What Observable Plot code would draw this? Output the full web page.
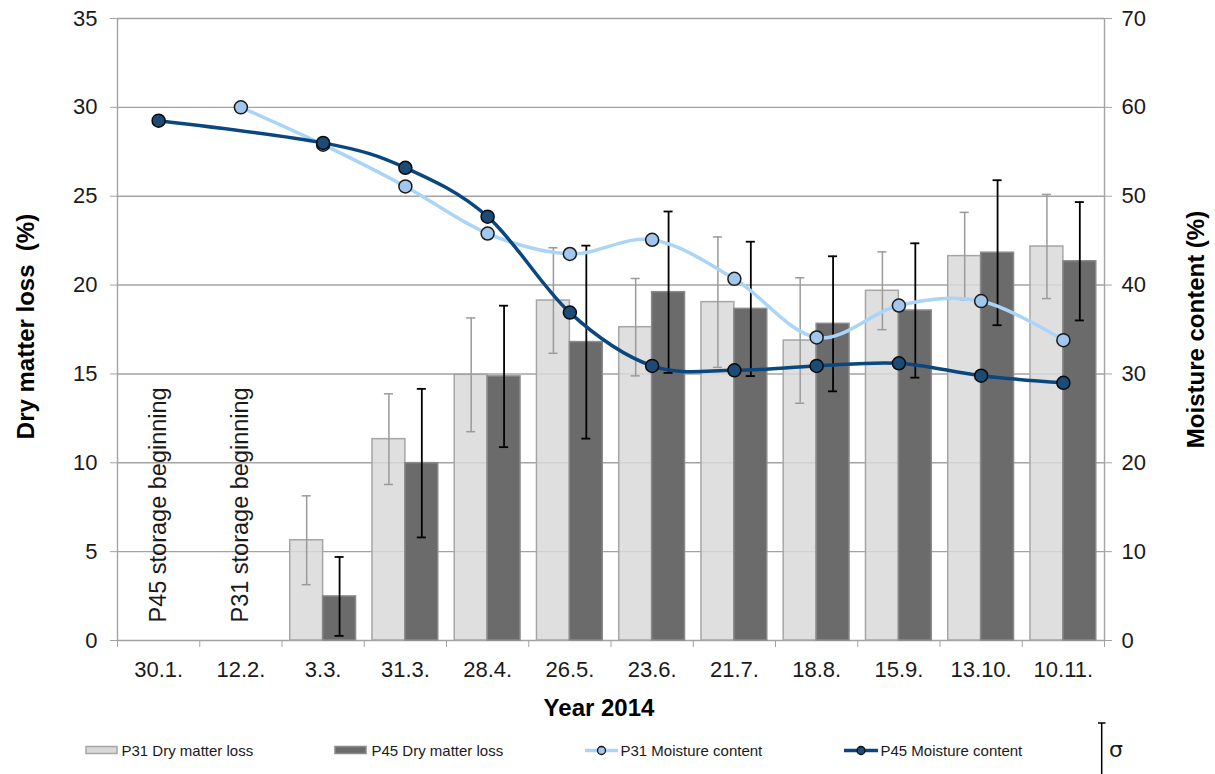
<!DOCTYPE html>
<html>
<head>
<meta charset="utf-8">
<script src="https://cdn.jsdelivr.net/npm/d3@7"></script>
<script src="https://cdn.jsdelivr.net/npm/@observablehq/plot@0.6"></script>
<style>
  html, body { margin: 0; padding: 0; background: #fff; }
  #wrap { position: relative; width: 1215px; height: 774px; font-family: "Liberation Sans", Arial, sans-serif; }
  #legend { display: block; }
</style>
</head>
<body>
<div id="wrap"></div>
<script>
// ---- data ----
const cats = ["30.1.", "12.2.", "3.3.", "31.3.", "28.4.", "26.5.", "23.6.", "21.7.", "18.8.", "15.9.", "13.10.", "10.11."];
const p31Loss   = [null, null, 5.64, 11.33, 14.95, 19.13, 17.63, 19.04, 16.88, 19.68, 21.63, 22.17];
const p31LossSd = [null, null, 2.50, 2.55, 3.20, 2.97, 2.74, 3.67, 3.53, 2.19, 2.46, 2.93];
const p45Loss   = [null, null, 2.48, 9.98, 14.86, 16.79, 19.60, 18.66, 17.82, 18.57, 21.82, 21.34];
const p45LossSd = [null, null, 2.22, 4.18, 3.98, 5.43, 4.54, 3.78, 3.80, 3.78, 4.08, 3.33];
const p31Moist  = [null, 60.0, 55.8, 51.1, 45.8, 43.5, 45.1, 40.7, 34.1, 37.7, 38.2, 33.8];
const p45Moist  = [58.5, null, 56.0, 53.2, 47.7, 36.9, 30.9, 30.4, 30.9, 31.2, 29.8, 29.0];
const leftTicks = [0, 5, 10, 15, 20, 25, 30, 35];
const rightTicks = [0, 10, 20, 30, 40, 50, 60, 70];
const storageNotes = [{i: 0, t: "P45 storage beginning"}, {i: 1, t: "P31 storage beginning"}];
const legendItems = ["P31 Dry matter loss", "P45 Dry matter loss", "P31 Moisture content", "P45 Moisture content"];

// ---- table ----
const rows = cats.map((c, i) => ({
  i, c,
  p31: p31Loss[i], p31sd: p31LossSd[i],
  p45: p45Loss[i], p45sd: p45LossSd[i],
  m31: p31Moist[i], m45: p45Moist[i]
}));
const r31 = rows.filter(d => d.p31 != null);
const r45 = rows.filter(d => d.p45 != null);
const m31 = rows.filter(d => d.m31 != null);
const m45 = rows.filter(d => d.m45 != null);
const ratio = 35 / 70; // right axis maps onto left scale

const GRID = "#a3a3a3";
const TXT = "#1a1a1a";
const BW = 0.4, EO = 0.2, CAP = 0.055;

const chart = Plot.plot({
  width: 1215,
  height: 722,
  marginTop: 18,
  marginBottom: 82,
  marginLeft: 117,
  marginRight: 111,
  style: {fontFamily: "'Liberation Sans', Arial, sans-serif", fontSize: "22px", color: TXT, background: "white"},
  x: {type: "linear", domain: [-0.5, 11.5]},
  y: {domain: [0, 35]},
  marks: [
    Plot.ruleY(leftTicks, {stroke: GRID, strokeWidth: 1.4}),
    Plot.ruleX([-0.5, 11.5], {stroke: GRID, strokeWidth: 1.4}),
    // bars
    Plot.rect(r31, {x1: d => d.i - BW, x2: d => d.i, y1: 0, y2: "p31", fill: "#d9d9d9", fillOpacity: 0.85, stroke: "#a6a6a6", strokeWidth: 1.5}),
    Plot.rect(r45, {x1: d => d.i, x2: d => d.i + BW, y1: 0, y2: "p45", fill: "#6b6b6b", stroke: "#8a8a8a", strokeWidth: 1.5}),
    // error bars P31
    Plot.ruleX(r31, {x: d => d.i - EO, y1: d => d.p31 - d.p31sd, y2: d => d.p31 + d.p31sd, stroke: "#9a9a9a", strokeWidth: 1.5}),
    Plot.ruleY(r31, {x1: d => d.i - EO - CAP, x2: d => d.i - EO + CAP, y: d => d.p31 + d.p31sd, stroke: "#9a9a9a", strokeWidth: 1.5}),
    Plot.ruleY(r31, {x1: d => d.i - EO - CAP, x2: d => d.i - EO + CAP, y: d => d.p31 - d.p31sd, stroke: "#9a9a9a", strokeWidth: 1.5}),
    // error bars P45
    Plot.ruleX(r45, {x: d => d.i + EO, y1: d => d.p45 - d.p45sd, y2: d => d.p45 + d.p45sd, stroke: "#000", strokeWidth: 1.8}),
    Plot.ruleY(r45, {x1: d => d.i + EO - CAP, x2: d => d.i + EO + CAP, y: d => d.p45 + d.p45sd, stroke: "#000", strokeWidth: 1.8}),
    Plot.ruleY(r45, {x1: d => d.i + EO - CAP, x2: d => d.i + EO + CAP, y: d => d.p45 - d.p45sd, stroke: "#000", strokeWidth: 1.8}),
    // moisture lines
    Plot.line(m31, {x: "i", y: d => d.m31 * ratio, curve: "cardinal", tension: 0, stroke: "#aad4f8", strokeWidth: 3.5}),
    Plot.line(m45, {x: "i", y: d => d.m45 * ratio, curve: "cardinal", tension: 0, stroke: "#0a477f", strokeWidth: 3.5}),
    Plot.dot(m31, {x: "i", y: d => d.m31 * ratio, r: 6.5, fill: "#a2c6ec", stroke: "#1a1a1a", strokeWidth: 1.5}),
    Plot.dot(m45, {x: "i", y: d => d.m45 * ratio, r: 6.5, fill: "#1c4b78", stroke: "#0a0a0a", strokeWidth: 1.5}),
    // axes
    Plot.axisY(leftTicks, {anchor: "left", tickSize: 7, tickPadding: 13, fontSize: 22, stroke: GRID, fill: TXT, label: null}),
    Plot.axisY(leftTicks, {anchor: "right", tickSize: 7, tickPadding: 10, tickFormat: d => d / ratio, fontSize: 22, stroke: GRID, fill: TXT, label: null}),
    Plot.axisX(d3.range(13).map(k => k - 0.5), {tickSize: 7, tickFormat: () => "", stroke: GRID, label: null}),
    Plot.axisX(d3.range(12), {tickSize: 0, tickPadding: 21, tickFormat: i => cats[i], fontSize: 22, fill: TXT, label: null}),
    // annotations
    Plot.text(storageNotes, {x: "i", y: 0, text: "t", rotate: -90, textAnchor: "start", lineAnchor: "middle", dy: -18, fontSize: 23.5, fill: TXT}),
    Plot.text(["Dry matter loss\u00a0 (%)"], {frameAnchor: "left", dx: -91, dy: -3, rotate: -90, textAnchor: "middle", lineAnchor: "middle", fontSize: 24, fontWeight: "bold", fill: "#000"}),
    Plot.text(["Moisture content (%)"], {frameAnchor: "right", dx: 92, rotate: -90, textAnchor: "middle", lineAnchor: "middle", fontSize: 24, fontWeight: "bold", fill: "#000"}),
    Plot.text(["Year 2014"], {frameAnchor: "bottom", dy: 68, dx: -12, textAnchor: "middle", lineAnchor: "middle", fontSize: 24, fontWeight: "bold", fill: "#000"})
  ]
});
document.getElementById("wrap").appendChild(chart);

// ---- legend (below the chart) ----
const lg = d3.select("#wrap").append("svg")
  .attr("id", "legend").attr("width", 1215).attr("height", 52)
  .style("font-family", "'Liberation Sans', Arial, sans-serif");
const cy = 28.5;
// bar swatches
const sw = [{x: 86, fill: "#d9d9d9", stroke: "#a6a6a6", tx: 121.5, label: legendItems[0]},
            {x: 335, fill: "#6b6b6b", stroke: "#8a8a8a", tx: 371.5, label: legendItems[1]}];
sw.forEach(s => {
  lg.append("rect").attr("x", s.x).attr("y", cy - 4).attr("width", 31).attr("height", 7)
    .attr("fill", s.fill).attr("stroke", s.stroke).attr("stroke-width", 1.5);
  lg.append("text").attr("x", s.tx).attr("y", cy).attr("dy", "0.35em").attr("font-size", 15).attr("fill", TXT).text(s.label);
});
// line swatches
const ls = [{x1: 585, x2: 618, cx: 601.5, stroke: "#aad4f8", fill: "#a2c6ec", tx: 620.5, label: legendItems[2]},
            {x1: 844, x2: 878, cx: 861, stroke: "#0a477f", fill: "#1c4b78", tx: 880.5, label: legendItems[3]}];
ls.forEach(s => {
  lg.append("line").attr("x1", s.x1).attr("x2", s.x2).attr("y1", cy).attr("y2", cy)
    .attr("stroke", s.stroke).attr("stroke-width", 3.5);
  lg.append("circle").attr("cx", s.cx).attr("cy", cy).attr("r", 4)
    .attr("fill", s.fill).attr("stroke", "#111").attr("stroke-width", 1.3);
  lg.append("text").attr("x", s.tx).attr("y", cy).attr("dy", "0.35em").attr("font-size", 15).attr("fill", TXT).text(s.label);
});
// sigma item
lg.append("line").attr("x1", 1101.7).attr("x2", 1101.7).attr("y1", 1).attr("y2", 52).attr("stroke", "#000").attr("stroke-width", 1.5);
lg.append("line").attr("x1", 1098).attr("x2", 1105.5).attr("y1", 1).attr("y2", 1).attr("stroke", "#000").attr("stroke-width", 1.5);
lg.append("text").attr("x", 1109).attr("y", 27).attr("dy", "0.35em").attr("font-size", 22).attr("fill", TXT)
  .style("font-family", "'DejaVu Sans', sans-serif").text("σ");
</script>
</body>
</html>
